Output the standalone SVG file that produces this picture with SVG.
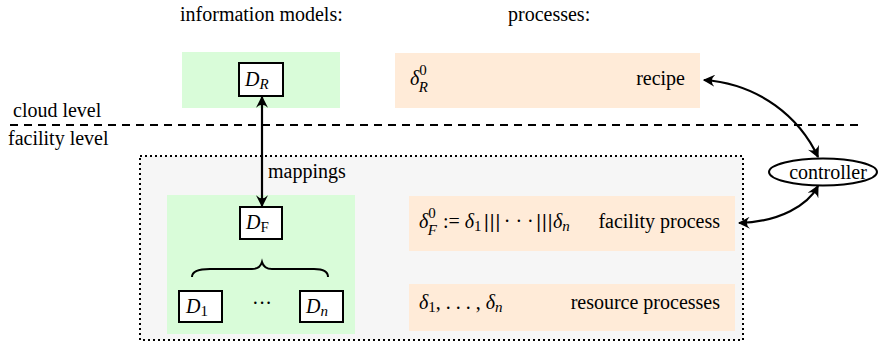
<svg xmlns="http://www.w3.org/2000/svg" width="880" height="357" viewBox="0 0 880 357">
<defs>
<style>
.t{font-family:"Liberation Serif",serif;font-size:20px;fill:#000}
.m{font-family:"Liberation Serif",serif;font-style:italic;font-size:20px;fill:#000}
.s{font-size:15px}
.u{font-style:normal}
.box{fill:#fff;stroke:#000;stroke-width:2}
.green{fill:#d9fcd9}
.peach{fill:#ffebd8}
.con{fill:none;stroke:#000;stroke-width:2.2}
</style>
<marker id="ah" viewBox="0 0 10 10" refX="9" refY="5" markerWidth="12" markerHeight="12" markerUnits="userSpaceOnUse" orient="auto-start-reverse">
<path d="M0,0 Q5,5 0,10 L10,5 Z" fill="#000"/>
</marker>
</defs>
<rect width="880" height="357" fill="#fff"/>
<g id="labels">
<text class="t" x="180" y="21">information models:</text>
<text class="t" x="508" y="21">processes:</text>
<text class="t" x="13" y="117">cloud level</text>
<text class="t" x="8" y="145">facility level</text>
</g>
<line x1="10" y1="125" x2="858" y2="125" stroke="#000" stroke-width="2" stroke-dasharray="8 6"/>
<g id="facility">
<rect x="140" y="156" width="603" height="184" fill="#f6f6f6" stroke="#000" stroke-width="2" stroke-dasharray="2 3"/>
</g>
<g id="info-cloud">
<rect class="green" x="182" y="52" width="158" height="56"/>
</g>
<g id="DR">
<rect class="box" x="239" y="63" width="44" height="33"/>
<text class="m" x="245" y="86">D<tspan class="s" dy="3">R</tspan></text>
</g>
<g id="recipe">
<rect class="peach" x="395" y="53" width="305" height="55"/>
<text class="m" x="410" y="85">δ<tspan class="s u" dy="-10">0</tspan><tspan class="s" dx="-8" dy="17">R</tspan></text>
<text class="t" x="685" y="85" text-anchor="end">recipe</text>
</g>
<g id="info-facility">
<rect class="green" x="167" y="195" width="188" height="139"/>
<path d="M192,277 Q192,269 210,269 L252,269 Q260,269 262,262 Q264,269 272,269 L314,269 Q328,269 328,277" fill="none" stroke="#000" stroke-width="2"/>
<text class="t" x="262" y="310" text-anchor="middle">···</text>
</g>
<g id="DF">
<rect class="box" x="240" y="207" width="42" height="32"/>
<text class="m" x="246" y="229">D<tspan class="s u" dy="3">F</tspan></text>
</g>
<g id="D1">
<rect class="box" x="179" y="291" width="43" height="31"/>
<text class="m" x="186" y="313">D<tspan class="s u" dy="3">1</tspan></text>
</g>
<g id="Dn">
<rect class="box" x="300" y="291" width="43" height="31"/>
<text class="m" x="306" y="313">D<tspan class="s" dy="3">n</tspan></text>
</g>
<g id="facility-process">
<rect class="peach" x="409" y="196" width="326" height="55"/>
<text class="m" x="419" y="228">δ<tspan class="s u" dy="-10">0</tspan><tspan class="s" dx="-8" dy="17">F</tspan><tspan class="u" dx="6" dy="-7">:= </tspan>δ<tspan class="s u" dy="3">1</tspan><tspan class="u" dx="2" dy="-3" font-family="DejaVu Sans" font-size="17">|||</tspan><tspan class="u" dx="3">· · ·</tspan><tspan class="u" dx="2" font-family="DejaVu Sans" font-size="17">|||</tspan>δ<tspan class="s" dy="3">n</tspan></text>
<text class="t" x="720" y="228" text-anchor="end">facility process</text>
</g>
<g id="resource-processes">
<rect class="peach" x="409" y="284" width="326" height="47"/>
<text class="m" x="419" y="309">δ<tspan class="s u" dy="3">1</tspan><tspan class="u" dy="-3">, . . . , </tspan>δ<tspan class="s" dy="3">n</tspan></text>
<text class="t" x="720" y="309" text-anchor="end">resource processes</text>
</g>
<g id="controller">
<ellipse cx="823" cy="172" rx="54" ry="13.5" fill="#fff" stroke="#000" stroke-width="2"/>
<text class="t" x="828" y="179" text-anchor="middle">controller</text>
</g>
<g id="connectors">
<line class="con" x1="262" y1="97" x2="262" y2="206" marker-start="url(#ah)" marker-end="url(#ah)"/>
<text class="t" x="268" y="178">mappings</text>
<path class="con" d="M704,80 C760,84 800,118 818,157" marker-start="url(#ah)" marker-end="url(#ah)"/>
<path class="con" d="M739,223 C780,222 808,205 818,186" marker-start="url(#ah)" marker-end="url(#ah)"/>
</g>
</svg>
